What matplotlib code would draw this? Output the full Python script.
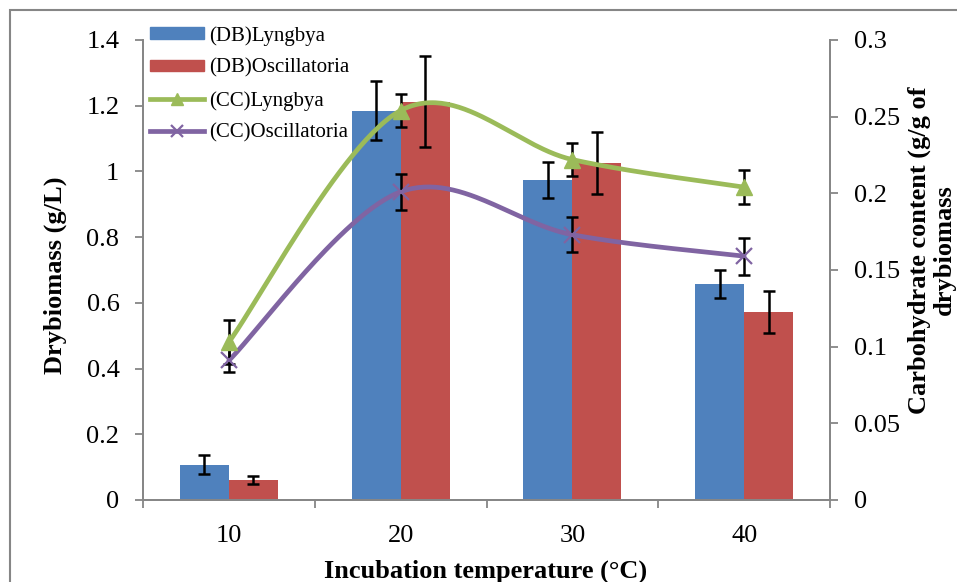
import numpy as np
import matplotlib
matplotlib.use("Agg")
import matplotlib.pyplot as plt
from matplotlib.patches import Rectangle
from matplotlib.lines import Line2D

plt.rcParams['font.family'] = ['Liberation Serif', 'DejaVu Serif']

# ---- data ----
temps = ["10", "20", "30", "40"]
db_lyngbya = [0.107, 1.185, 0.974, 0.657]
db_lyngbya_err = [0.029, 0.089, 0.056, 0.042]
db_oscill = [0.061, 1.212, 1.025, 0.572]
db_oscill_err = [0.012, 0.139, 0.094, 0.063]
cc_lyngbya = [0.103, 0.254, 0.222, 0.204]
cc_lyngbya_err = [0.0145, 0.0105, 0.011, 0.011]
cc_oscill = [0.091, 0.201, 0.173, 0.159]
cc_oscill_err = [0.0078, 0.0117, 0.0114, 0.012]

C_BLUE = "#4F81BD"
C_RED = "#C0504D"
C_GREEN = "#9BBB59"
C_PURPLE = "#8064A2"
C_AX = "#868686"

W, H, DPI = 957, 582, 100
fig = plt.figure(figsize=(W / DPI, H / DPI), dpi=DPI)
ax = fig.add_axes([143 / W, 1 - 500 / H, (830 - 143) / W, (500 - 40) / H])
ax2 = ax.twinx()

x = np.arange(len(temps))
bw = 0.285
ax.bar(x - bw / 2, db_lyngbya, bw, color=C_BLUE, label="(DB)Lyngbya", zorder=2)
ax.bar(x + bw / 2, db_oscill, bw, color=C_RED, label="(DB)Oscillatoria", zorder=2)
ekw = dict(fmt="none", ecolor="black", elinewidth=1.8, capsize=4, capthick=1.8, zorder=3)
ax.errorbar(x - bw / 2, db_lyngbya, yerr=db_lyngbya_err, **ekw)
ax.errorbar(x + bw / 2, db_oscill, yerr=db_oscill_err, **ekw)


def smooth(xs, ys, n=60):
    xs = np.asarray(xs, float)
    ys = np.asarray(ys, float)
    P = np.column_stack([xs, ys])
    Pe = np.vstack([P[0], P, P[-1]])
    out = []
    t = np.linspace(0, 1, n)[:, None]
    for i in range(len(P) - 1):
        p0, p1, p2, p3 = Pe[i], Pe[i + 1], Pe[i + 2], Pe[i + 3]
        c1 = p1 + (p2 - p0) / 6
        c2 = p2 - (p3 - p1) / 6
        seg = ((1 - t) ** 3) * p1 + 3 * ((1 - t) ** 2) * t * c1 + 3 * (1 - t) * t ** 2 * c2 + t ** 3 * p2
        out.append(seg if i == 0 else seg[1:])
    s = np.vstack(out)
    return s[:, 0], s[:, 1]


sx, sy = smooth(x, cc_lyngbya)
ax2.plot(sx, sy, color=C_GREEN, lw=3.4, zorder=3, solid_capstyle="round")
sx, sy = smooth(x, cc_oscill)
ax2.plot(sx, sy, color=C_PURPLE, lw=3.4, zorder=3, solid_capstyle="round")
ekw2 = dict(fmt="none", ecolor="black", elinewidth=1.8, capsize=4, capthick=1.8, zorder=4)
ax2.errorbar(x, cc_lyngbya, yerr=cc_lyngbya_err, **ekw2)
ax2.errorbar(x, cc_oscill, yerr=cc_oscill_err, **ekw2)
ax2.plot(x, cc_lyngbya, ls="none", marker="^", ms=11, color=C_GREEN, zorder=5)
ax2.plot(x, cc_oscill, ls="none", marker="x", ms=11, mew=1.6, color=C_PURPLE, zorder=5)

# axes setup
ax.set_xlim(-0.5, 3.5)
ax.set_ylim(0, 1.4)
ax2.set_ylim(0, 0.3)
ax.set_yticks(np.arange(0, 1.41, 0.2))
ax.set_yticklabels(["0", "0.2", "0.4", "0.6", "0.8", "1", "1.2", "1.4"])
ax2.set_yticks(np.arange(0, 0.301, 0.05))
ax2.set_yticklabels(["0", "0.05", "0.1", "0.15", "0.2", "0.25", "0.3"])
ax.set_xticks(x)
ax.set_xticklabels(temps)
ax.set_xticks(np.arange(-0.5, 3.6, 1), minor=True)

fs = 19
ax.tick_params(axis="x", which="major", length=0, pad=18, labelsize=fs)
ax.tick_params(axis="x", which="minor", length=6, width=1.3, color=C_AX, direction="out")
ax.tick_params(axis="y", length=6, width=1.3, color=C_AX, pad=11, labelsize=fs)
ax2.tick_params(axis="y", length=6, width=1.3, color=C_AX, pad=11, labelsize=fs)

for a in (ax, ax2):
    a.spines["top"].set_visible(False)
    for s in ("left", "right", "bottom"):
        a.spines[s].set_color(C_AX)
        a.spines[s].set_linewidth(1.3)
ax.patch.set_visible(False)
ax2.patch.set_visible(False)
ax.set_zorder(1)
ax2.set_zorder(2)

fig.text(55 / W, 1 - 275 / H, "Drybiomass (g/L)", rotation=90, ha="center", va="center",
         fontsize=fs, fontweight="bold")
fig.text(486 / W, 1 - 578 / H, "Incubation temperature (°C)", ha="center", va="baseline",
         fontsize=fs, fontweight="bold")
fig.text(932 / W, 1 - 250 / H, "Carbohydrate content (g/g of\ndrybiomass", rotation=90,
         ha="center", va="center", fontsize=fs, fontweight="bold", linespacing=1.1,
         multialignment="center")

# legend
handles = [
    Rectangle((0, 0), 1, 1, color=C_BLUE),
    Rectangle((0, 0), 1, 1, color=C_RED),
    Line2D([], [], color=C_GREEN, lw=3.4, marker="^", ms=9),
    Line2D([], [], color=C_PURPLE, lw=3.4, marker="x", ms=9, mew=1.6),
]
labels = ["(DB)Lyngbya", "(DB)Oscillatoria", "(CC)Lyngbya", "(CC)Oscillatoria"]
leg = fig.legend(handles, labels, loc="upper left", bbox_to_anchor=(150 / W, 1 - 26 / H),
                 frameon=False, fontsize=15, handlelength=2.6, handleheight=0.5,
                 handletextpad=0.25, labelspacing=0.62, borderpad=0, borderaxespad=0)
leg.set_zorder(10)

# figure border
fig.patches.append(Rectangle((10 / W, -0.1), 1.2, 1 - 10 / H + 0.1, transform=fig.transFigure,
                             fill=False, edgecolor=C_AX, lw=1.5, zorder=0))

fig.savefig("out.png", dpi=DPI)
